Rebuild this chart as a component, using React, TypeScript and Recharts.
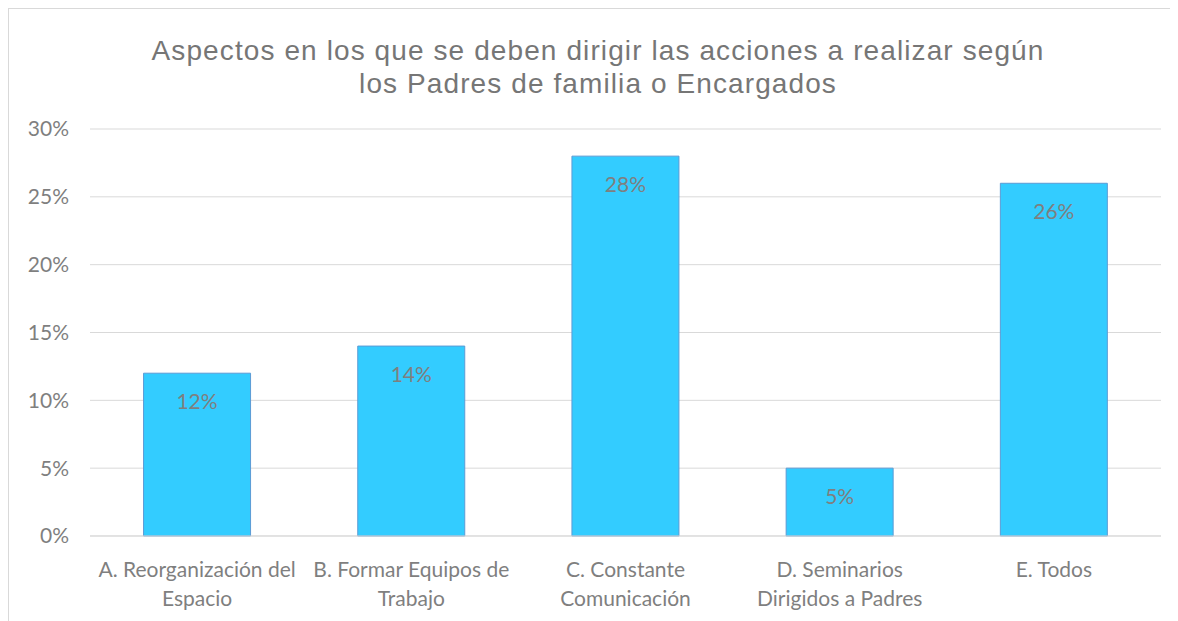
import { Bar, BarChart, CartesianGrid, LabelList, XAxis, YAxis } from 'recharts'

const categories = [
  'A. Reorganización del\nEspacio',
  'B. Formar Equipos de\nTrabajo',
  'C. Constante\nComunicación',
  'D. Seminarios\nDirigidos a Padres',
  'E. Todos',
]
const values = [12, 14, 28, 5, 26]
const yTicks = [0, 5, 10, 15, 20, 25, 30]
const titleLines = [
  'Aspectos en los que se deben dirigir las acciones a realizar según',
  'los Padres de familia o Encargados',
]

const data = categories.map((name, i) => ({ name, value: values[i] }))

const grey = '#7f7f7f'
const tickFont = 'Lato, "Noto Sans", sans-serif'

function CategoryTick({ x, y, payload }: any) {
  const lines = String(payload.value).split('\n')
  return (
    <text x={x} y={y} textAnchor="middle" fill={grey} fontSize={21} fontFamily={tickFont}>
      {lines.map((line, i) => (
        <tspan key={i} x={x} dy={i === 0 ? 33 : 29}>
          {line}
        </tspan>
      ))}
    </text>
  )
}

export default function App() {
  return (
    <div
      style={{
        position: 'relative',
        width: 1170,
        height: 620,
        borderLeft: '1px solid #d9d9d9',
        borderTop: '1px solid #d9d9d9',
        background: '#fff',
      }}
    >
      <div
        style={{
          position: 'absolute',
          top: 25,
          left: 0,
          width: 1178,
          textAlign: 'center',
          fontFamily: '"Liberation Sans", Arial, sans-serif',
          fontSize: 28,
          letterSpacing: 1.1,
          lineHeight: '33px',
          color: '#767676',
        }}
      >
        {titleLines.map((l) => (
          <div key={l}>{l}</div>
        ))}
      </div>
      <BarChart
        width={1160}
        height={612}
        data={data}
        margin={{ top: 120, right: 8, bottom: 5, left: 11 }}
        barCategoryGap="25%"
      >
        <CartesianGrid vertical={false} stroke="#d9d9d9" />
        <XAxis
          dataKey="name"
          interval={0}
          tickLine={false}
          axisLine={{ stroke: '#d9d9d9' }}
          tick={<CategoryTick />}
          height={80}
        />
        <YAxis
          domain={[0, 30]}
          ticks={yTicks}
          tickFormatter={(v) => `${v}%`}
          axisLine={false}
          tickLine={false}
          width={70}
          tick={{ fill: grey, fontSize: 21, fontFamily: tickFont }}
          tickMargin={15}
        />
        <Bar dataKey="value" fill="#33ccff" stroke="#5b9bd5" strokeWidth={1} isAnimationActive={false}>
          <LabelList
            dataKey="value"
            position="insideTop"
            offset={21}
            formatter={(v: any) => `${v}%`}
            style={{ fill: grey, fontSize: 21, fontFamily: tickFont }}
          />
        </Bar>
      </BarChart>
    </div>
  )
}
